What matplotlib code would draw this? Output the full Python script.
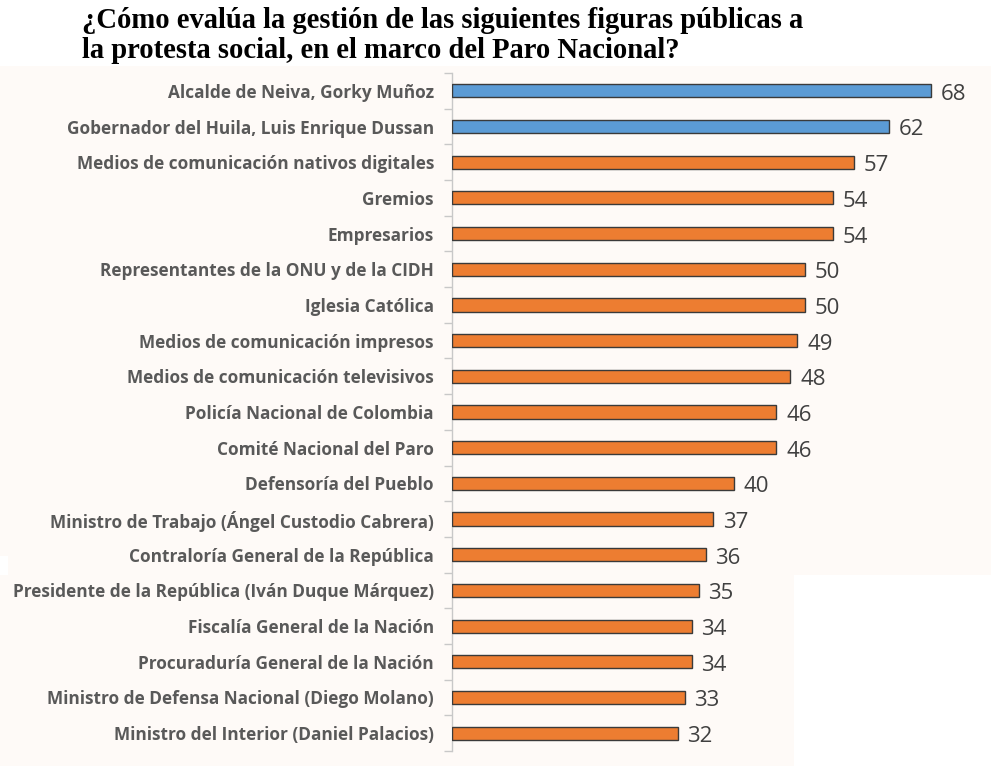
import matplotlib
matplotlib.use("Agg")
import matplotlib.pyplot as plt
from matplotlib.patches import Rectangle
import numpy as np

categories = [
    "Alcalde de Neiva, Gorky Muñoz",
    "Gobernador del Huila, Luis Enrique Dussan",
    "Medios de comunicación nativos digitales",
    "Gremios",
    "Empresarios",
    "Representantes de la ONU y de la CIDH",
    "Iglesia Católica",
    "Medios de comunicación impresos",
    "Medios de comunicación televisivos",
    "Policía Nacional de Colombia",
    "Comité Nacional del Paro",
    "Defensoría del Pueblo",
    "Ministro de Trabajo (Ángel Custodio Cabrera)",
    "Contraloría General de la República",
    "Presidente de la República (Iván Duque Márquez)",
    "Fiscalía General de la Nación",
    "Procuraduría General de la Nación",
    "Ministro de Defensa Nacional (Diego Molano)",
    "Ministro del Interior (Daniel Palacios)",
]
values = [68, 62, 57, 54, 54, 50, 50, 49, 48, 46, 46, 40, 37, 36, 35, 34, 34, 33, 32]
highlight = [True, True] + [False] * 17

title_lines = ["¿Cómo evalúa la gestión de las siguientes figuras públicas a",
               "la protesta social, en el marco del Paro Nacional?"]

W, H = 1008, 766
fig = plt.figure(figsize=(W / 100, H / 100), dpi=100)
fig.patch.set_facecolor("white")

cream = "#FEFAF7"
def px_rect(x0, y0, x1, y1):
    fig.patches.append(Rectangle((x0 / W, 1 - y1 / H), (x1 - x0) / W, (y1 - y0) / H,
                                 transform=fig.transFigure, facecolor=cream,
                                 edgecolor="none", zorder=-5))
px_rect(8, 66, 991, 575)
px_rect(0, 575, 794, 766)
px_rect(0, 66, 8, 556)

for i, (line, base) in enumerate(zip(title_lines, [28, 58])):
    fig.text(82 / W, 1 - base / H, line, ha="left", va="baseline",
             family="Liberation Serif", fontweight="bold", fontsize=20.6,
             color="black")

ax = fig.add_axes([452 / W, 1 - 751 / H, (990 - 452) / W, (751 - 73) / H])
ax.set_zorder(2)
ax.set_facecolor("none")
y = np.arange(len(categories))
colors = ["#5B9BD5" if h else "#ED7D31" for h in highlight]
ax.barh(y, values, height=0.37, color=colors, edgecolor="#3a3a3a", linewidth=1.0, zorder=3)

ax.set_xlim(0, (990 - 452) / 7.05)
ax.set_ylim(len(categories) - 0.5, -0.5)

for yi, v in zip(y, values):
    ax.annotate(str(v), (v, yi), xytext=(7, -2.5), textcoords="offset points",
                ha="left", va="center", fontsize=16, family="Open Sans",
                color="#404040")

ax.set_yticks(y)
ax.set_yticklabels(categories, family="Open Sans", fontweight="bold",
                   fontsize=12.4, color="#595959")
ax.tick_params(axis="y", which="major", length=0, pad=13)
ax.set_yticks(np.arange(-0.5, len(categories)), minor=True)
ax.tick_params(axis="y", which="minor", length=6, color="#C8C8C8", width=1)
ax.set_xticks([])
for s in ["top", "right", "bottom"]:
    ax.spines[s].set_visible(False)
ax.spines["left"].set_color("#C8C8C8")
ax.spines["left"].set_linewidth(1)

fig.savefig("out.png", dpi=100, facecolor=fig.get_facecolor())
